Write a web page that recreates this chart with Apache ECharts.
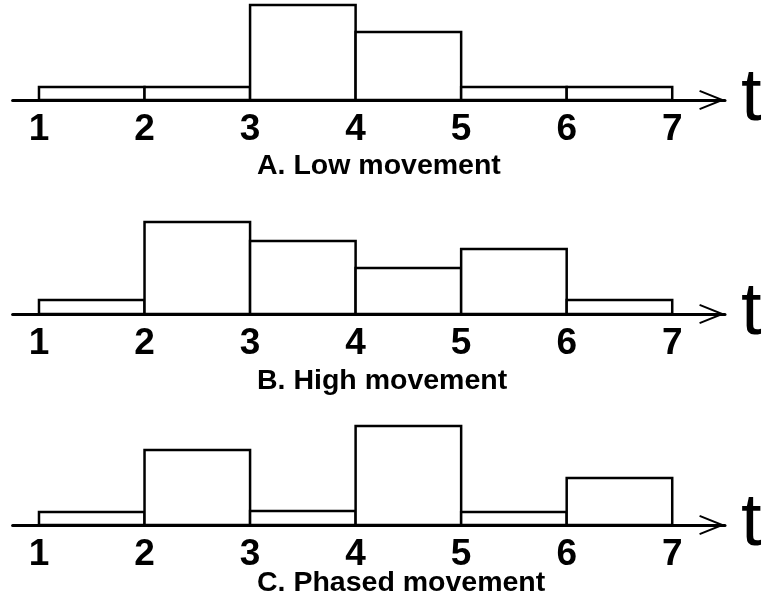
<!DOCTYPE html>
<html>
<head>
<meta charset="utf-8">
<title>Movement patterns</title>
<script src="https://cdn.jsdelivr.net/npm/echarts@6/dist/echarts.min.js"></script>
<style>
  html, body { margin: 0; padding: 0; background: #fff; }
  #chart { width: 767px; height: 600px; }
</style>
</head>
<body>
<div id="chart"></div>
<script>
// time steps on the axis, and bar heights for each interval (1-2, 2-3, ... 6-7)
const STEPS = [1, 2, 3, 4, 5, 6, 7]
const LOW = [13, 13, 95, 68, 13, 13]
const HIGH = [14, 92, 73, 46, 65, 14]
const PHASED = [13, 75, 14, 99, 13, 47]
const TITLES = ['A. Low movement', 'B. High movement', 'C. Phased movement']
const PANELS = [LOW, HIGH, PHASED]

const FONT = '"Liberation Sans", Arial, Helvetica, sans-serif'
const GRID_TOPS = [0, 214, 425]
const TITLE_TOPS = [152, 367, 569]

// open chevron, pointing up (echarts rotates it along the axis)
const CHEVRON = 'path://M0,25L10,0L20,25L18.14,25.74L10,5.39L1.86,25.74Z'

function toIntervals(heights) {
  return heights.map((h, i) => [STEPS[i], STEPS[i + 1], h])
}

function renderBar(params, api) {
  const topLeft = api.coord([api.value(0), api.value(2)])
  const bottomRight = api.coord([api.value(1), 0])
  return {
    type: 'rect',
    shape: {
      x: topLeft[0],
      y: topLeft[1],
      width: bottomRight[0] - topLeft[0],
      height: bottomRight[1] - topLeft[1]
    },
    style: { fill: '#fff', stroke: '#000', lineWidth: 2.5 }
  }
}

const chart = echarts.init(document.getElementById('chart'), null, { renderer: 'canvas' })

chart.setOption({
  animation: false,
  textStyle: { fontFamily: FONT },
  title: TITLES.map((t, i) => ({
    text: t,
    left: 257,
    top: TITLE_TOPS[i],
    padding: 0,
    textStyle: { fontSize: 28.5, fontWeight: 'bold', color: '#000', fontFamily: FONT }
  })),
  grid: GRID_TOPS.map(top => ({ left: 12.6, right: 42, top: top, height: 100 })),
  xAxis: PANELS.map((_, i) => ({
    type: 'value',
    gridIndex: i,
    min: 0.75,
    max: 7.5,
    interval: 0.25,
    z: 5,
    name: 't',
    nameLocation: 'end',
    nameGap: 16,
    nameTextStyle: { fontSize: 74, color: '#000', fontFamily: FONT, verticalAlign: 'middle' },
    axisLine: {
      lineStyle: { color: '#000', width: 3 },
      symbol: ['none', CHEVRON],
      symbolSize: [20, 25.74],
      symbolOffset: [0, -12.9]
    },
    axisTick: { show: false },
    splitLine: { show: false },
    axisLabel: {
      margin: 11,
      color: '#000',
      fontSize: 37,
      fontWeight: 'bold',
      fontFamily: FONT,
      formatter: v => (STEPS.includes(v) ? String(v) : '')
    }
  })),
  yAxis: PANELS.map((_, i) => ({
    type: 'value',
    gridIndex: i,
    min: 0,
    max: 100,
    show: false
  })),
  series: PANELS.map((heights, i) => ({
    type: 'custom',
    xAxisIndex: i,
    yAxisIndex: i,
    clip: false,
    renderItem: renderBar,
    encode: { x: [0, 1], y: 2 },
    data: toIntervals(heights)
  }))
})
</script>
</body>
</html>
